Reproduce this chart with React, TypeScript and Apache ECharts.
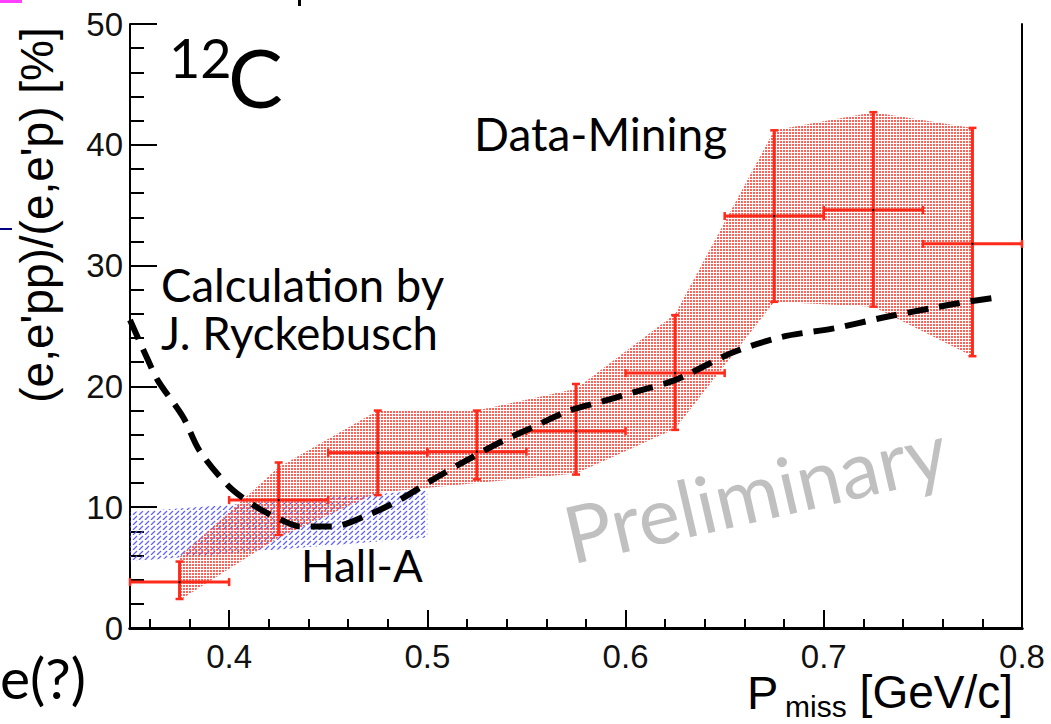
import React, { useEffect, useRef } from 'react';
import * as echarts from 'echarts';

// Data-mining points (e,e'pp)/(e,e'p) [%]
const pointX = [0.375, 0.425, 0.475, 0.525, 0.575, 0.625, 0.675, 0.725, 0.775];
const pointY = [3.8, 10.6, 14.5, 14.6, 16.3, 21.1, 34.1, 34.6, 31.8];
const xLow = [0.35, 0.4, 0.45, 0.5, 0.55, 0.6, 0.65, 0.7, 0.75];
const xHigh = [0.4, 0.45, 0.5, 0.55, 0.6, 0.65, 0.7, 0.75, 0.8];
const yLow = [2.4, 7.7, 11.0, 12.3, 12.7, 16.4, 27.0, 26.6, 22.5];
const yHigh = [5.5, 13.7, 18.0, 18.0, 20.2, 25.9, 41.2, 42.7, 41.4];

// Systematic band (red)
const bandX = [0.375, 0.425, 0.475, 0.525, 0.575, 0.625, 0.675, 0.725, 0.775];
const bandLow = [2.3, 7.5, 11.2, 12.0, 12.8, 16.5, 27.0, 26.6, 22.5];
const bandHigh = [5.9, 13.3, 18.0, 18.0, 19.8, 26.0, 41.2, 42.7, 41.4];

// Hall-A band (blue)
const hallAX = [0.35, 0.5];
const hallALow = [5.5, 7.5];
const hallAHigh = [9.6, 11.4];

// Calculation by J. Ryckebusch (dashed)
const calcX = [0.35, 0.359, 0.364, 0.377, 0.385, 0.4, 0.414, 0.427, 0.436, 0.452, 0.47, 0.486, 0.503, 0.52, 0.537, 0.553, 0.57, 0.587, 0.604, 0.621, 0.629, 0.654, 0.679, 0.705, 0.73, 0.755, 0.772, 0.789];
const calcY = [25.5, 22.2, 20.5, 17.4, 14.7, 11.7, 10.0, 8.9, 8.4, 8.4, 9.35, 10.6, 12.3, 13.9, 15.4, 16.6, 17.9, 18.7, 19.5, 20.3, 20.8, 22.8, 24.1, 24.8, 25.7, 26.5, 27.0, 27.4];

const RED = '#ff2a1a';

function makeStipple() {
  const c = document.createElement('canvas');
  c.width = 3; c.height = 3;
  const g = c.getContext('2d')!;
  g.fillStyle = 'rgba(255,70,60,0.85)';
  g.fillRect(0, 0, 2, 2);
  return c;
}
function makeHatch() {
  const c = document.createElement('canvas');
  c.width = 6; c.height = 5;
  const g = c.getContext('2d')!;
  g.strokeStyle = 'rgba(80,80,255,0.9)';
  g.lineWidth = 1.2;
  g.beginPath();
  g.moveTo(1, 5); g.lineTo(5, 1);
  g.stroke();
  return c;
}

export default function App() {
  const ref = useRef<HTMLDivElement>(null);
  useEffect(() => {
    const chart = echarts.init(ref.current!, undefined, { renderer: 'svg' });
    const stipple = makeStipple();
    const hatch = makeHatch();
    const labelFont = { fontFamily: 'Liberation Sans', fontSize: 33, color: '#111' };
    const textFont = 'Lato';

    const option: any = {
      animation: false,
      backgroundColor: '#fff',
      grid: { left: 130, right: 29, top: 24, bottom: 96 },
      xAxis: [
        {
          type: 'value', min: 0.35, max: 0.8, splitNumber: 5, minInterval: 0.1, maxInterval: 0.1,
          axisLine: { show: true, lineStyle: { color: '#000080', width: 3 } },
          axisTick: { show: true, inside: true, length: 18, lineStyle: { color: '#000', width: 2 } },
          minorTick: { show: true, splitNumber: 5, length: 9, lineStyle: { color: '#000', width: 2 } },
          splitLine: { show: false },
          axisLabel: { ...labelFont, margin: 12, showMinLabel: false, formatter: (v: number) => v.toFixed(1) },
        },
        {
          type: 'value', min: 0.35, max: 0.8, position: 'top',
          axisLine: { show: true, lineStyle: { color: '#000', width: 3 } },
          axisTick: { show: false }, axisLabel: { show: false }, splitLine: { show: false },
        },
      ],
      yAxis: [
        {
          type: 'value', min: 0, max: 50, interval: 10,
          axisLine: { show: true, lineStyle: { color: '#000', width: 2 } },
          axisTick: { show: true, inside: true, length: 27, lineStyle: { color: '#000', width: 2 } },
          minorTick: { show: true, splitNumber: 5, length: 14, lineStyle: { color: '#000', width: 2 } },
          splitLine: { show: false },
          axisLabel: { ...labelFont, margin: 7 },
        },
        {
          type: 'value', min: 0, max: 50, position: 'right',
          axisLine: { show: true, lineStyle: { color: '#000', width: 2 } },
          axisTick: { show: false }, axisLabel: { show: false }, splitLine: { show: false },
        },
      ],
      series: [
        {
          type: 'custom', name: 'Hall-A', z: 1,
          data: hallAX.map((x, i) => [x, hallALow[i], hallAHigh[i]]),
          encode: { x: 0, y: [1, 2] },
          renderItem: (params: any, api: any) => {
            if (params.dataIndex !== 0) return null;
            const up = hallAX.map((x, i) => api.coord([x, hallAHigh[i]]));
            const lo = hallAX.map((x, i) => api.coord([x, hallALow[i]])).reverse();
            return { type: 'polygon', shape: { points: up.concat(lo) }, style: { fill: { image: hatch, repeat: 'repeat' } } };
          },
        },
        {
          type: 'custom', name: 'Syst', z: 2,
          data: bandX.map((x, i) => [x, bandLow[i], bandHigh[i]]),
          encode: { x: 0, y: [1, 2] },
          renderItem: (params: any, api: any) => {
            if (params.dataIndex !== 0) return null;
            const up = bandX.map((x, i) => api.coord([x, bandHigh[i]]));
            const lo = bandX.map((x, i) => api.coord([x, bandLow[i]])).reverse();
            return { type: 'polygon', shape: { points: up.concat(lo) }, style: { fill: { image: stipple, repeat: 'repeat' } } };
          },
        },
        {
          type: 'custom', name: 'Data-Mining', z: 3,
          data: pointX.map((x, i) => [x, pointY[i], xLow[i], xHigh[i], yLow[i], yHigh[i]]),
          encode: { x: 0, y: 1 },
          renderItem: (params: any, api: any) => {
            const x = api.value(0), y = api.value(1);
            const c = api.coord([x, y]);
            const l = api.coord([api.value(2), y]);
            const r = api.coord([api.value(3), y]);
            const b = api.coord([x, api.value(4)]);
            const t = api.coord([x, api.value(5)]);
            const st = { stroke: RED, lineWidth: 3 };
            const cs = { stroke: RED, lineWidth: 2.5 };
            const cap = 4;
            return {
              type: 'group',
              children: [
                { type: 'line', shape: { x1: l[0], y1: l[1], x2: r[0], y2: r[1] }, style: st },
                { type: 'line', shape: { x1: t[0], y1: t[1], x2: b[0], y2: b[1] }, style: st },
                { type: 'line', shape: { x1: l[0], y1: l[1] - cap, x2: l[0], y2: l[1] + cap }, style: cs },
                { type: 'line', shape: { x1: r[0], y1: r[1] - cap, x2: r[0], y2: r[1] + cap }, style: cs },
                { type: 'line', shape: { x1: t[0] - cap, y1: t[1], x2: t[0] + cap, y2: t[1] }, style: cs },
                { type: 'line', shape: { x1: b[0] - cap, y1: b[1], x2: b[0] + cap, y2: b[1] }, style: cs },
                { type: 'circle', shape: { cx: c[0], cy: c[1], r: 1.2 }, style: { fill: '#000' } },
              ],
            };
          },
        },
        {
          type: 'line', name: 'Calculation', z: 4,
          data: calcX.map((x, i) => [x, calcY[i]]),
          smooth: 0.3, showSymbol: false, symbol: 'none',
          lineStyle: { color: '#000', width: 6, type: [21, 11] },
        },
      ],
      graphic: [
        { type: 'rect', shape: { x: 0, y: 0, width: 22, height: 3 }, style: { fill: '#ff40ff' } },
        { type: 'rect', shape: { x: 0, y: 228, width: 12, height: 2 }, style: { fill: '#000080' } },
        { type: 'rect', shape: { x: 298, y: 0, width: 3, height: 6 }, style: { fill: '#000' } },
        { type: 'text', x: 169, y: 57, style: { text: '12', fontFamily: textFont, fontSize: 54, fill: '#000', align: 'left', verticalAlign: 'middle' } },
        { type: 'text', x: 228, y: 76, style: { text: 'C', fontFamily: textFont, fontSize: 82, fill: '#000', align: 'left', verticalAlign: 'middle' } },
        { type: 'text', x: 474, y: 133, style: { text: 'Data-Mining', fontFamily: textFont, fontSize: 46, fill: '#000', align: 'left', verticalAlign: 'middle' } },
        { type: 'text', x: 161, y: 284, style: { text: 'Calculation by', fontFamily: textFont, fontSize: 45.5, lineHeight: 46, fill: '#000', align: 'left', verticalAlign: 'middle' } },
        { type: 'text', x: 161, y: 332, style: { text: 'J. Ryckebusch', fontFamily: textFont, fontSize: 45.5, lineHeight: 46, fill: '#000', align: 'left', verticalAlign: 'middle' } },
        { type: 'text', x: 301, y: 565, style: { text: 'Hall-A', fontFamily: textFont, fontSize: 44, fill: '#000', align: 'left', verticalAlign: 'middle' } },
        { type: 'text', x: 0, y: 677, style: { text: 'e(?)', fontFamily: textFont, fontSize: 57, fill: '#000', align: 'left', verticalAlign: 'middle' } },
        { type: 'text', x: 755, y: 491, rotation: 13 * Math.PI / 180, style: { text: 'Preliminary', fontFamily: textFont, fontSize: 79, fill: '#c0c0c0', align: 'center', verticalAlign: 'middle' } },
        { type: 'text', x: 37, y: 215, rotation: Math.PI / 2, style: { text: "(e,e'pp)/(e,e'p) [%]", fontFamily: 'Liberation Sans', fontSize: 46, fill: '#000', align: 'center', verticalAlign: 'middle' } },
        { type: 'text', x: 747, y: 692, style: { text: 'P', fontFamily: 'Liberation Sans', fontSize: 47, fill: '#000', align: 'left', verticalAlign: 'middle' } },
        { type: 'text', x: 785, y: 706, style: { text: 'miss', fontFamily: 'Liberation Sans', fontSize: 30, fill: '#000', align: 'left', verticalAlign: 'middle' } },
        { type: 'text', x: 1013, y: 692, style: { text: '[GeV/c]', fontFamily: 'Liberation Sans', fontSize: 46, fill: '#000', align: 'right', verticalAlign: 'middle' } },
      ],
    };
    chart.setOption(option);
    return () => chart.dispose();
  }, []);
  return <div ref={ref} style={{ position: 'absolute', left: 0, top: 0, width: 1051, height: 724 }} />;
}
